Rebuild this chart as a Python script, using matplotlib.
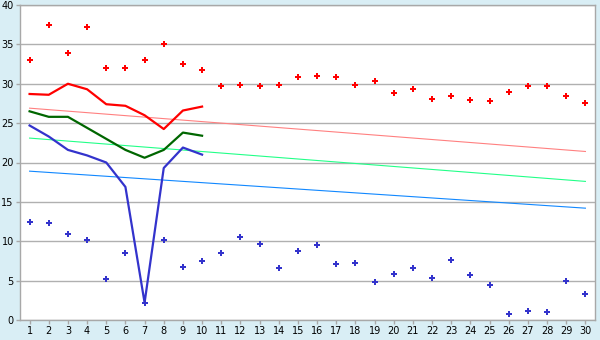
import matplotlib
matplotlib.use("Agg")
import matplotlib.pyplot as plt

days = list(range(1, 31))

# upper scatter (red) and lower scatter (blue)
high_pts = [33.0, 37.4, 33.9, 37.2, 32.0, 32.0, 33.0, 35.0, 32.5, 31.8,
            29.7, 29.8, 29.7, 29.8, 30.8, 31.0, 30.8, 29.9, 30.3, 28.8,
            29.3, 28.1, 28.5, 27.9, 27.8, 29.0, 29.7, 29.7, 28.4, 27.5]
low_pts = [12.4, 12.3, 10.9, 10.2, 5.2, 8.5, 2.2, 10.2, 6.7, 7.45,
           8.5, 10.6, 9.6, 6.6, 8.7, 9.5, 7.1, 7.2, 4.8, 5.8,
           6.6, 5.3, 7.6, 5.7, 4.4, 0.7, 1.1, 1.0, 4.9, 3.3]

# first ten days lines
line_days = list(range(1, 11))
red_line = [28.7, 28.6, 30.0, 29.3, 27.4, 27.2, 26.0, 24.25, 26.6, 27.1]
green_line = [26.5, 25.8, 25.8, 24.4, 23.0, 21.6, 20.6, 21.6, 23.8, 23.4]
blue_line = [24.7, 23.3, 21.6, 20.9, 20.0, 16.9, 2.2, 19.3, 21.9, 21.0]

# trend lines (start, end)
trend_days = [1, 30]
trend_red = [26.9, 21.4]
trend_green = [23.1, 17.6]
trend_blue = [18.9, 14.2]

bg = "#D9EEF5"
fig = plt.figure(figsize=(6, 3.4), dpi=100, facecolor=bg)
ax = fig.add_axes([20 / 600, 20 / 340, 575 / 600, 315 / 340])
ax.set_facecolor("white")

ax.plot(trend_days, trend_red, color="#FF8080", lw=0.8)
ax.plot(trend_days, trend_green, color="#22FF88", lw=0.8)
ax.plot(trend_days, trend_blue, color="#1188FF", lw=0.8)

ax.plot(line_days, red_line, color="#FF0000", lw=1.6)
ax.plot(line_days, green_line, color="#006600", lw=1.6)
ax.plot(line_days, blue_line, color="#3333CC", lw=1.6)

ax.plot(days, high_pts, ls="none", marker="P", ms=5, color="#FF0000", mew=0)
ax.plot(days, low_pts, ls="none", marker="P", ms=5, color="#3333CC", mew=0)

ax.set_xlim(0.5, 30.5)
ax.set_ylim(0, 40)
ax.set_xticks(days)
ax.set_yticks(range(0, 41, 5))
ax.yaxis.grid(True, color="#B0B0B0", lw=1)
ax.set_axisbelow(True)
for s in ax.spines.values():
    s.set_color("#A8A8A8")
    s.set_linewidth(1)
ax.tick_params(axis="both", labelsize=7, colors="#A8A8A8", labelcolor="black",
               length=3, width=1, pad=1.5)

fig.savefig("out.png", dpi=100, facecolor=bg)
